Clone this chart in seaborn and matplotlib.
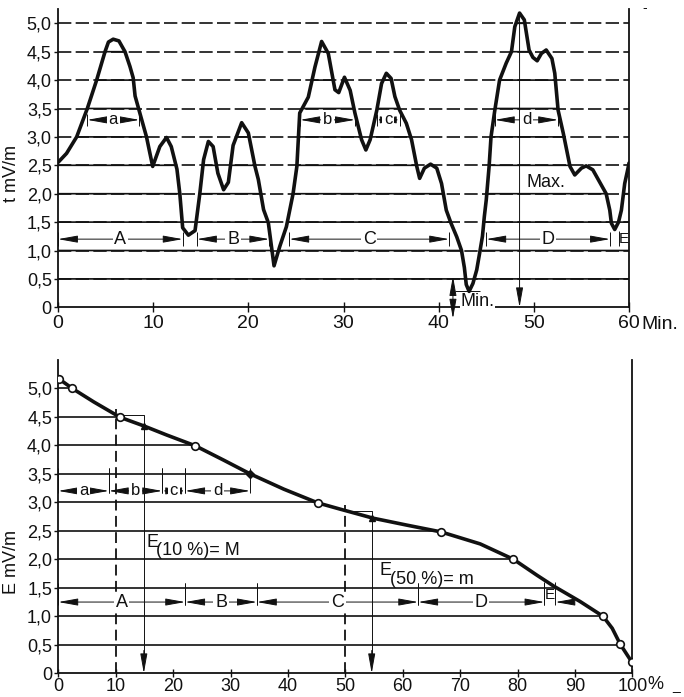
import numpy as np
import pandas as pd
import matplotlib
matplotlib.use("Agg")
import matplotlib.pyplot as plt
import seaborn as sns

# ---- field strength record over one hour (minutes, mV/m) ----
minutes = [0.0, 0.9, 1.96, 3.08, 4.06, 4.94, 5.3, 5.8, 6.4, 7.04, 7.56, 7.9, 8.1, 8.55,
           9.3, 9.66, 9.95, 10.7, 11.4, 11.9, 12.5, 12.8, 13.1, 13.7, 14.4, 14.9, 15.3,
           15.8, 16.3, 16.8, 17.4, 17.9, 18.4, 19.3, 20.0, 20.7, 21.05, 21.6, 22.1, 22.7,
           23.3, 24.0, 24.7, 25.1, 25.4, 26.3, 27.0, 27.7, 28.4, 29.1, 29.5, 30.1, 30.7,
           31.2, 31.9, 32.35, 32.8, 33.5, 34.0, 34.5, 35.0, 35.4, 35.9, 36.6, 37.15, 37.7,
           38.0, 38.5, 39.15, 39.8, 40.3, 40.8, 41.3, 41.9, 42.4, 42.7, 42.9, 43.2, 43.6,
           44.0, 44.3, 44.6, 44.8, 45.0, 45.3, 45.5, 45.9, 46.4, 47.1, 47.65, 48.0, 48.5,
           49.0, 49.5, 49.9, 50.35, 50.8, 51.3, 51.9, 52.2, 52.55, 53.1, 53.8, 54.3, 55.0,
           55.5, 56.2, 56.9, 57.6, 57.98, 58.15, 58.5, 58.9, 59.2, 59.55, 59.9, 60.0]
field = [2.55, 2.71, 3.0, 3.5, 4.0, 4.5, 4.67, 4.72, 4.69, 4.5, 4.24, 4.04, 3.72, 3.45,
         3.0, 2.71, 2.48, 2.83, 2.99, 2.83, 2.43, 2.0, 1.4, 1.27, 1.35, 2.0, 2.6,
         2.92, 2.83, 2.36, 2.07, 2.2, 2.85, 3.25, 3.07, 2.48, 2.25, 1.72, 1.49, 0.73,
         1.07, 1.42, 2.0, 2.48, 3.42, 3.7, 4.23, 4.68, 4.47, 3.83, 3.78, 4.05, 3.82,
         3.42, 2.95, 2.77, 2.95, 3.47, 3.94, 4.12, 4.03, 3.71, 3.47, 3.24, 2.95, 2.48,
         2.27, 2.45, 2.52, 2.45, 2.18, 1.71, 1.48, 1.24, 1.0, 0.7, 0.4, 0.28, 0.42,
         0.66, 0.95, 1.25, 1.6, 1.89, 2.48, 3.0, 3.47, 4.0, 4.3, 4.5, 4.94, 5.18,
         5.06, 4.53, 4.4, 4.34, 4.47, 4.53, 4.38, 4.12, 3.47, 3.06, 2.48, 2.33, 2.45,
         2.49, 2.42, 2.21, 2.0, 1.71, 1.48, 1.37, 1.5, 1.71, 2.18, 2.45, 2.54]

# ---- cumulative distribution: percent of time the field is exceeded ----
dist_pct = [0.2, 2.4, 6.2, 10.8, 14.9, 18.9, 23.9, 28.8, 33.4, 39.3, 45.2, 49.1, 54.9,
            60.7, 66.7, 73.5, 79.3, 83.4, 86.3, 90.9, 94.9, 96.5, 97.9, 99.9]
dist_field = [5.16, 5.0, 4.76, 4.49, 4.34, 4.18, 3.99, 3.74, 3.5, 3.23, 2.99, 2.88, 2.72,
              2.6, 2.48, 2.27, 2.0, 1.72, 1.53, 1.26, 1.0, 0.79, 0.51, 0.2]
# read-off points marked with circles on the distribution curve
circ_pct = [0.2, 2.4, 10.8, 23.9, 45.2, 66.7, 79.3, 94.9, 97.9, 99.9]
circ_field = [5.16, 5.0, 4.49, 3.99, 2.99, 2.48, 2.0, 1.0, 0.51, 0.2]

levels = [0.5, 1.0, 1.5, 2.0, 2.5, 3.0, 3.5, 4.0, 4.5, 5.0]
ytick_vals = [0, 0.5, 1.0, 1.5, 2.0, 2.5, 3.0, 3.5, 4.0, 4.5, 5.0]
ytick_labels = ["0", "0,5", "1,0", "1,5", "2,0", "2,5", "3,0", "3,5", "4,0", "4,5", "5,0"]
top_xticks = [0, 10, 20, 30, 40, 50, 60]
bot_xticks = [0, 10, 20, 30, 40, 50, 60, 70, 80, 90, 100]

# intervals above 3.5 (a-d) and above 1.5 (A-E), minutes
top_small = [("a", 3.08, 8.55), ("b", 25.45, 31.2), ("c", 33.5, 35.9), ("d", 45.9, 52.55)]
top_large = [("A", 0.0, 13.1), ("B", 14.6, 22.2), ("C", 24.3, 41.1), ("D", 45.0, 58.0)]
# same intervals stacked on the percentage scale
bot_small = [("a", 0.0, 8.8), ("b", 8.8, 18.1), ("c", 18.1, 22.1), ("d", 22.1, 33.4)]
bot_large = [("A", 0.0, 22.1), ("B", 22.1, 34.6), ("C", 34.6, 62.7), ("D", 62.7, 84.7)]

sns.set_theme(style="white")
plt.rcParams["font.family"] = ["Liberation Sans", "DejaVu Sans"]
plt.rcParams["axes.edgecolor"] = "#111111"

INK = "#111111"
fig = plt.figure(figsize=(6.84, 6.97), dpi=100)
W, H = 684.0, 697.0
ax1 = fig.add_axes([58 / W, 1 - 307.3 / H, 571 / W, 298.2 / H])
ax2 = fig.add_axes([58.3 / W, 1 - 673.3 / H, 574 / W, 313.5 / H])

ARROW = "<|-|>,head_length=1.0,head_width=0.18"
HEAD = "-|>,head_length=1.0,head_width=0.18"


def dim_line(ax, x0, x1, y, label, fs, tick_lo, tick_hi, ticks=True):
    ax.annotate("", xy=(x0, y), xytext=(x1, y),
                arrowprops=dict(arrowstyle=ARROW, lw=0.7, color=INK,
                                shrinkA=0, shrinkB=0), zorder=3)
    ax.text((x0 + x1) / 2, y, label, ha="center", va="center", fontsize=fs, color=INK,
            bbox=dict(fc="white", ec="none", pad=1.2), zorder=4)
    if ticks:
        ax.vlines([x0, x1], y + tick_lo, y + tick_hi, color=INK, lw=0.7, zorder=3)


# ================= upper chart: recording =================
t_fine = np.linspace(0, 60, 6001)
e_fine = np.interp(t_fine, minutes, field)
for lv in levels:
    ax1.plot([0, 60], [lv, lv], color=INK, lw=1.2, ls=(0, (8, 2.6)), zorder=1)
    ax1.plot(t_fine, np.where(e_fine >= lv, lv, np.nan), color=INK, lw=1.2, zorder=1.5)

rec = pd.DataFrame({"min": minutes, "E": field})
sns.lineplot(data=rec, x="min", y="E", ax=ax1, color=INK, lw=2.6, sort=False,
             estimator=None, solid_joinstyle="round", zorder=5)

for lab, a, b in top_small:
    dim_line(ax1, a, b, 3.3, lab, 12, -0.1, 0.1)
for lab, a, b in top_large:
    dim_line(ax1, a, b, 1.2, lab, 13, -0.12, 0.12)
ax1.vlines([59.0], 1.08, 1.35, color=INK, lw=0.7)
ax1.text(59.5, 1.2, "E", ha="center", va="center", fontsize=11, color=INK)

# maximum marker
i_max = int(np.argmax(field))
t_max = minutes[i_max]
ax1.annotate("", xy=(t_max, 0), xytext=(t_max, field[i_max] - 0.05),
             arrowprops=dict(arrowstyle=HEAD, lw=0.7, color=INK, shrinkA=0, shrinkB=0),
             zorder=3)
ax1.text(t_max + 0.7, 2.2, "Max.", ha="left", va="center", fontsize=13, color=INK)

# minimum marker
i_min = int(np.argmin(field))
ax1.hlines(field[i_min], 41.7, 44.3, color=INK, lw=0.7)
ax1.annotate("", xy=(41.5, 0.55), xytext=(41.5, -0.2),
             arrowprops=dict(arrowstyle=ARROW, lw=0.7, color=INK, shrinkA=0, shrinkB=0),
             annotation_clip=False, zorder=3)
ax1.text(42.3, 0.1, "Min.", ha="left", va="center", fontsize=13, color=INK,
         bbox=dict(fc="white", ec="none", pad=0.5))

ax1.set_xlim(0, 60)
ax1.set_ylim(0, 5.25)
ax1.set_xticks(top_xticks)
ax1.set_xticklabels([str(v) for v in top_xticks])
ax1.set_yticks(ytick_vals)
ax1.set_yticklabels(ytick_labels)
ax1.text(61.3, -0.3, "Min.", ha="left", va="center", fontsize=14, color=INK, clip_on=False)
ax1.set_xlabel("")
ax1.set_ylabel("t mV/m", fontsize=13, color=INK)
ax1.yaxis.set_label_coords(-0.066, 0.45)

# ================= lower chart: distribution =================
for lv in levels:
    x_end = float(np.interp(lv, dist_field[::-1], dist_pct[::-1]))
    ax2.plot([0, x_end], [lv, lv], color=INK, lw=1.2, zorder=1)

dist = pd.DataFrame({"pct": dist_pct, "E": dist_field})
sns.lineplot(data=dist, x="pct", y="E", ax=ax2, color=INK, lw=2.6, sort=False,
             estimator=None, solid_joinstyle="round", zorder=5)
circ = pd.DataFrame({"pct": circ_pct, "E": circ_field})
sns.scatterplot(data=circ, x="pct", y="E", ax=ax2, s=30, facecolor="white",
                edgecolor=INK, linewidth=1.2, zorder=6)

# 10 % and 50 % read-offs
for p_dash, p_arr, cap, txt, tx, ty in [(10, 14.9, 4.53, "(10 %)= M", 15.3, 2.3),
                                        (50, 54.6, 2.84, "(50 %)= m", 56.0, 1.8)]:
    top_dash = float(np.interp(p_dash, dist_pct, dist_field))
    ax2.plot([p_dash, p_dash], [0, top_dash + 0.1], color=INK, lw=1.3,
             ls=(0, (6, 3)), zorder=2)
    ax2.plot([p_dash, p_arr, p_arr], [cap, cap, 0.3], color=INK, lw=0.7, zorder=2)
    ax2.annotate("", xy=(p_arr, 0), xytext=(p_arr, 0.4),
                 arrowprops=dict(arrowstyle=HEAD, lw=0.7, color=INK, shrinkA=0, shrinkB=0),
                 zorder=3)
    ax2.plot([p_arr], [float(np.interp(p_arr, dist_pct, dist_field))], marker="^",
             ms=4.5, color=INK, zorder=6)
    ax2.text(tx, ty, "E", ha="left", va="center", fontsize=13, color=INK)
    ax2.text(tx + 1.8, ty - 0.15, txt, ha="left", va="center", fontsize=13, color=INK)

for lab, a, b in bot_small:
    dim_line(ax2, a, b, 3.2, lab, 12, -0.03, 0.4)
for lab, a, b in bot_large:
    dim_line(ax2, a, b, 1.25, lab, 13, -0.05, 0.33)
ax2.vlines([84.7, 86.6], 1.2, 1.6, color=INK, lw=0.7)
ax2.text(85.65, 1.38, "E", ha="center", va="center", fontsize=11, color=INK)
ax2.annotate("", xy=(86.6, 1.25), xytext=(89.5, 1.25),
             arrowprops=dict(arrowstyle=HEAD, lw=0.7, color=INK, shrinkA=0, shrinkB=0),
             zorder=3)
ax2.plot([33.4], [3.5], marker="D", ms=4, color=INK, zorder=6)

ax2.set_xlim(0, 100)
ax2.set_ylim(0, 5.5)
ax2.set_xticks(bot_xticks)
ax2.set_xticklabels([str(v) for v in bot_xticks])
ax2.set_yticks(ytick_vals)
ax2.set_yticklabels(ytick_labels)
ax2.text(102.6, -0.2, "%", ha="left", va="center", fontsize=13, color=INK, clip_on=False)
ax2.set_xlabel("")
ax2.set_ylabel("E mV/m", fontsize=13, color=INK)
ax2.yaxis.set_label_coords(-0.066, 0.355)

for ax in (ax1, ax2):
    ax.spines["top"].set_visible(False)
    for s in ("left", "right", "bottom"):
        ax.spines[s].set_linewidth(1.3)
        ax.spines[s].set_color(INK)
    ax.tick_params(axis="y", direction="out", length=3, width=1.0, pad=1.5,
                   labelsize=13, colors=INK, left=True, right=False)
ax1.tick_params(axis="x", direction="inout", length=7, width=1.0, pad=2,
                labelsize=14, colors=INK, bottom=True)
ax2.tick_params(axis="x", direction="inout", length=6, width=1.0, pad=0.5,
                labelsize=13, colors=INK, bottom=True)

fig.text(645 / W, 1 - 8 / H, "-", fontsize=10, color=INK, ha="center", va="center")
fig.text(676 / W, 1 - 686 / H, "_", fontsize=10, color=INK, ha="center", va="center")

fig.savefig("out.png", dpi=100, facecolor="white")
